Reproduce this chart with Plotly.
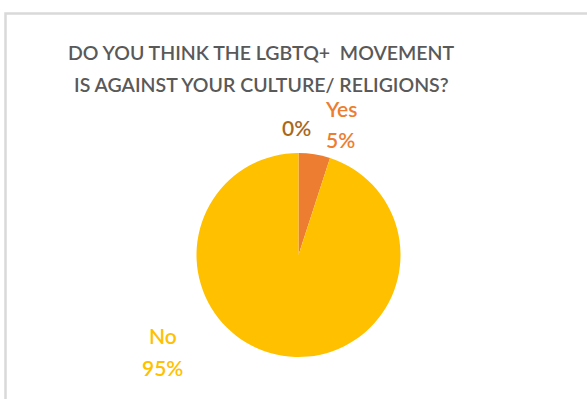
import plotly.graph_objects as go

# Survey responses
categories = ["Yes", "No", ""]
counts = [5, 95, 0]
slice_colors = ["#ED7D31", "#FFC000", "#A5A5A5"]
label_colors = ["#ED7D31", "#FFC000", "#A8671F"]

W, H = 587, 399

total = sum(counts)
pcts = [round(c / total * 100) for c in counts]

fig = go.Figure()
fig.add_trace(go.Pie(
    labels=categories,
    values=counts,
    sort=False,
    direction="clockwise",
    rotation=0,
    textinfo="none",
    hoverinfo="label+percent",
    showlegend=False,
    marker=dict(colors=slice_colors, line=dict(width=0)),
    domain=dict(x=[196.5 / W, 400.5 / W], y=[(H - 357) / H, (H - 153) / H]),
))

def px(x, y):
    return x / W, 1 - y / H

# data labels: category name above its percentage
label_pos = [(341, 108, 340, 139), (163, 335, 162, 367), (None, None, 297, 127)]
font_family = "Lato, Open Sans, sans-serif"
annotations = []
for name, pct, col, (nx, ny, vx, vy) in zip(categories, pcts, label_colors, label_pos):
    if name and nx is not None:
        ax, ay = px(nx, ny)
        annotations.append(dict(x=ax, y=ay, xref="paper", yref="paper", text=name,
                                showarrow=False, xanchor="center", yanchor="middle",
                                font=dict(family=font_family, size=21, color=col, weight=600)))
    bx, by = px(vx, vy)
    annotations.append(dict(x=bx, y=by, xref="paper", yref="paper", text=f"{pct}%",
                            showarrow=False, xanchor="center", yanchor="middle",
                            font=dict(family=font_family, size=21, color=col, weight=600)))

title_lines = ["DO YOU THINK THE LGBTQ+  MOVEMENT", "IS AGAINST YOUR CULTURE/ RELIGIONS?"]
for line, cy in zip(title_lines, [52, 84]):
    tx, ty = px(261, cy)
    annotations.append(dict(x=tx, y=ty, xref="paper", yref="paper", text=line,
                            showarrow=False, xanchor="center", yanchor="middle",
                            font=dict(family=font_family, size=19.5, color="#595959", weight=600)))

# chart frame (top and left edges visible)
shapes = [dict(type="path", xref="paper", yref="paper",
               path=f"M {5.5 / W} 0 L {5.5 / W} {1 - 13.5 / H} L 1.01 {1 - 13.5 / H}",
               line=dict(color="#D9D9D9", width=2.5))]

fig.update_layout(
    width=W, height=H,
    margin=dict(l=0, r=0, t=0, b=0),
    paper_bgcolor="white",
    plot_bgcolor="white",
    annotations=annotations,
    shapes=shapes,
)

fig.write_html("out.html")
